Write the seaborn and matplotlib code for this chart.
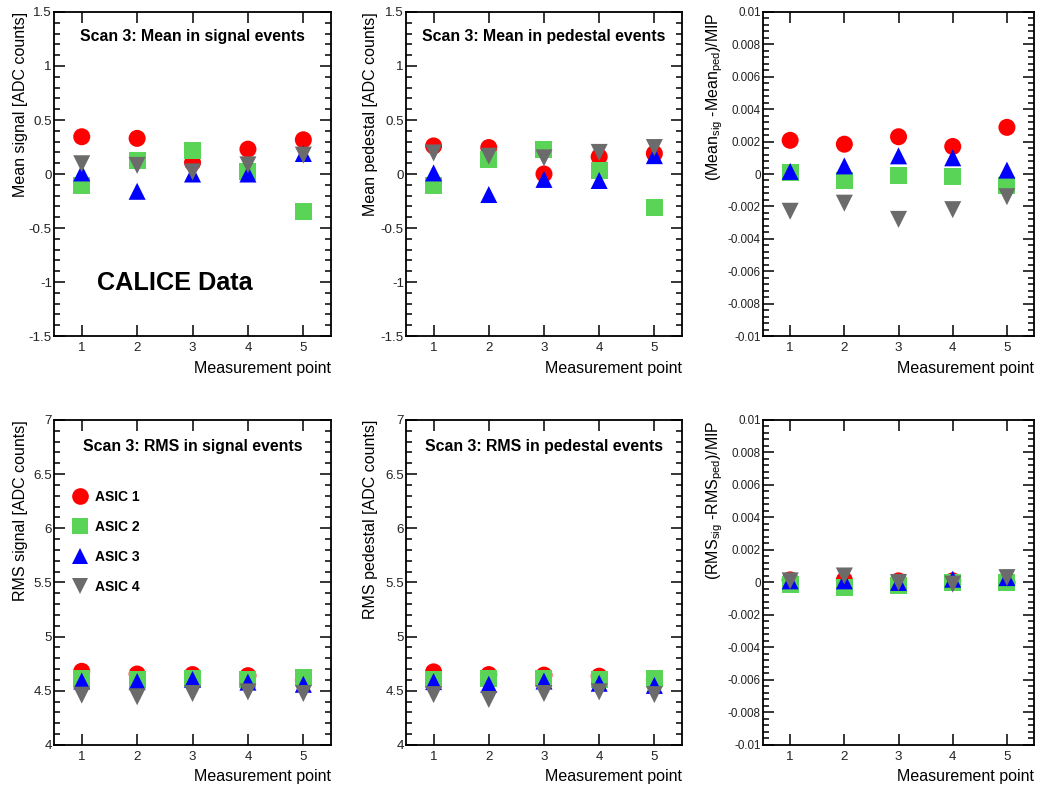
import matplotlib
matplotlib.use('Agg')
import matplotlib.pyplot as plt
from matplotlib.ticker import AutoMinorLocator, MultipleLocator
import numpy as np
import pandas as pd
import seaborn as sns

# measurement points and ASIC names
points = [1, 2, 3, 4, 5]
asics = ['ASIC 1', 'ASIC 2', 'ASIC 3', 'ASIC 4']

# mean in signal events [ADC counts]
mean_sig_asic1 = [0.345, 0.33, 0.105, 0.23, 0.317]
mean_sig_asic2 = [-0.11, 0.127, 0.217, 0.025, -0.345]
mean_sig_asic3 = [0.01, -0.16, 0.0, 0.0, 0.19]
mean_sig_asic4 = [0.095, 0.08, 0.02, 0.085, 0.175]

# mean in pedestal events [ADC counts]
mean_ped_asic1 = [0.26, 0.245, 0.0, 0.16, 0.19]
mean_ped_asic2 = [-0.11, 0.135, 0.23, 0.03, -0.31]
mean_ped_asic3 = [0.01, -0.19, -0.05, -0.06, 0.17]
mean_ped_asic4 = [0.195, 0.165, 0.15, 0.2, 0.245]

# (mean_sig - mean_ped) / MIP
mean_diff_asic1 = [0.00208, 0.00184, 0.0023, 0.0017, 0.00288]
mean_diff_asic2 = [0.00012, -0.00037, -0.00012, -0.00018, -0.0007]
mean_diff_asic3 = [0.00016, 0.0005, 0.00112, 0.001, 0.00024]
mean_diff_asic4 = [-0.0023, -0.0018, -0.0028, -0.0022, -0.0014]

# RMS in signal events [ADC counts]
rms_sig_asic1 = [4.68, 4.655, 4.65, 4.64, 4.6]
rms_sig_asic2 = [4.61, 4.605, 4.615, 4.6, 4.62]
rms_sig_asic3 = [4.59, 4.585, 4.605, 4.58, 4.56]
rms_sig_asic4 = [4.46, 4.445, 4.475, 4.49, 4.475]

# RMS in pedestal events [ADC counts]
rms_ped_asic1 = [4.675, 4.65, 4.645, 4.635, 4.6]
rms_ped_asic2 = [4.605, 4.615, 4.615, 4.6, 4.615]
rms_ped_asic3 = [4.585, 4.56, 4.59, 4.57, 4.55]
rms_ped_asic4 = [4.465, 4.42, 4.475, 4.49, 4.465]

# (rms_sig - rms_ped) / MIP
rms_diff_asic1 = [0.00016, 0.00015, 0.0001, 0.0001, 0.0]
rms_diff_asic2 = [-0.0001, -0.0003, -0.0002, 0.0, 0.0]
rms_diff_asic3 = [0.0001, 0.0001, 0.0, 0.0002, 0.0003]
rms_diff_asic4 = [0.0001, 0.0004, 0.0, -0.0001, 0.0003]

palette = {'ASIC 1': '#ff0000', 'ASIC 2': '#5ad456', 'ASIC 3': '#0000ff', 'ASIC 4': '#6b6b6b'}
markers = {'ASIC 1': 'o', 'ASIC 2': 's', 'ASIC 3': '^', 'ASIC 4': 'v'}


def long_frame(series):
  rows = []
  for name, vals in zip(asics, series):
    for p, v in zip(points, vals):
      rows.append({'point': p, 'value': v, 'asic': name})
  return pd.DataFrame(rows)


sns.set_style('ticks')
plt.rcParams['font.family'] = ['Liberation Sans', 'DejaVu Sans']
plt.rcParams['text.color'] = 'black'
plt.rcParams['axes.labelcolor'] = 'black'
plt.rcParams['mathtext.fontset'] = 'custom'
plt.rcParams['mathtext.rm'] = 'Liberation Sans'
plt.rcParams['mathtext.it'] = 'Liberation Sans'

fig = plt.figure(figsize=(10.41, 7.89), dpi=100)

lefts = [0.0519, 0.39, 0.733]
widths = [0.2661, 0.2651, 0.2603]
bottoms = [0.5741, 0.0558]
heights = [0.4107, 0.4119]

panels = [
  dict(data=[mean_sig_asic1, mean_sig_asic2, mean_sig_asic3, mean_sig_asic4],
       ylim=(-1.5, 1.5), major=0.5, ylabel='Mean signal [ADC counts]',
       title='Scan 3: Mean in signal events', lx=-0.095),
  dict(data=[mean_ped_asic1, mean_ped_asic2, mean_ped_asic3, mean_ped_asic4],
       ylim=(-1.5, 1.5), major=0.5, ylabel='Mean pedestal [ADC counts]',
       title='Scan 3: Mean in pedestal events', lx=-0.1),
  dict(data=[mean_diff_asic1, mean_diff_asic2, mean_diff_asic3, mean_diff_asic4],
       ylim=(-0.01, 0.01), major=0.002,
       ylabel=r'(Mean$_{\mathregular{sig}}$ -Mean$_{\mathregular{ped}}$)/MIP',
       title=None, lx=-0.14),
  dict(data=[rms_sig_asic1, rms_sig_asic2, rms_sig_asic3, rms_sig_asic4],
       ylim=(4, 7), major=0.5, ylabel='RMS signal [ADC counts]',
       title='Scan 3: RMS in signal events', lx=-0.095),
  dict(data=[rms_ped_asic1, rms_ped_asic2, rms_ped_asic3, rms_ped_asic4],
       ylim=(4, 7), major=0.5, ylabel='RMS pedestal [ADC counts]',
       title='Scan 3: RMS in pedestal events', lx=-0.1),
  dict(data=[rms_diff_asic1, rms_diff_asic2, rms_diff_asic3, rms_diff_asic4],
       ylim=(-0.01, 0.01), major=0.002,
       ylabel=r'(RMS$_{\mathregular{sig}}$ -RMS$_{\mathregular{ped}}$)/MIP',
       title=None, lx=-0.14),
]

for i, pan in enumerate(panels):
  row, col = divmod(i, 3)
  ax = fig.add_axes([lefts[col], bottoms[row], widths[col], heights[row]])
  df = long_frame(pan['data'])
  sns.scatterplot(data=df, x='point', y='value', hue='asic', style='asic',
                  palette=palette, markers=markers, s=150, linewidth=0,
                  ax=ax, legend=(i == 3), zorder=3)
  ax.set_xlim(0.5, 5.5)
  ax.set_ylim(*pan['ylim'])
  ax.xaxis.set_major_locator(MultipleLocator(1))
  ax.yaxis.set_major_locator(MultipleLocator(pan['major']))
  ax.yaxis.set_minor_locator(AutoMinorLocator(5))
  ax.tick_params(which='both', direction='in', top=True, right=True,
                 colors='black', labelcolor='#222222')
  ax.tick_params(which='major', length=8, width=1.1)
  ax.tick_params(which='minor', length=4, width=1.1)
  ax.tick_params(axis='x', which='minor', top=False, bottom=False)
  ax.tick_params(axis='x', labelsize=9.6, pad=4)
  ax.tick_params(axis='y', labelsize=(8.4 if col == 2 else 9.6), pad=1.5)
  for sp in ax.spines.values():
    sp.set_linewidth(1.3)
    sp.set_color('black')
  ax.yaxis.set_major_formatter(plt.FuncFormatter(lambda v, p: ('%g' % round(v, 6))))
  ax.set_xlabel('Measurement point', fontsize=11.5, loc='right', labelpad=5)
  ax.set_ylabel(pan['ylabel'], fontsize=11.5, loc='top')
  ax.yaxis.set_label_coords(pan['lx'], 1.0)
  if pan['title']:
    ty = 0.923 if row == 0 else 0.917
    ax.text(0.5, ty, pan['title'], transform=ax.transAxes, ha='center', va='center',
            fontsize=11.4, fontweight='bold')
  if i == 0:
    ax.text(0.437, 0.164, 'CALICE Data', transform=ax.transAxes, ha='center',
            va='center', fontsize=18.2, fontweight='bold')
  if i == 3:
    handles, labels = ax.get_legend_handles_labels()
    for h in handles:
      h.set_markersize(12)
    ax.legend(handles, labels, loc='upper left', bbox_to_anchor=(0.011, 0.822),
              frameon=False, prop={'weight': 'bold', 'size': 10},
              handletextpad=0.35, labelspacing=1.15, handlelength=1.5)

fig.savefig('out.png', dpi=100)
